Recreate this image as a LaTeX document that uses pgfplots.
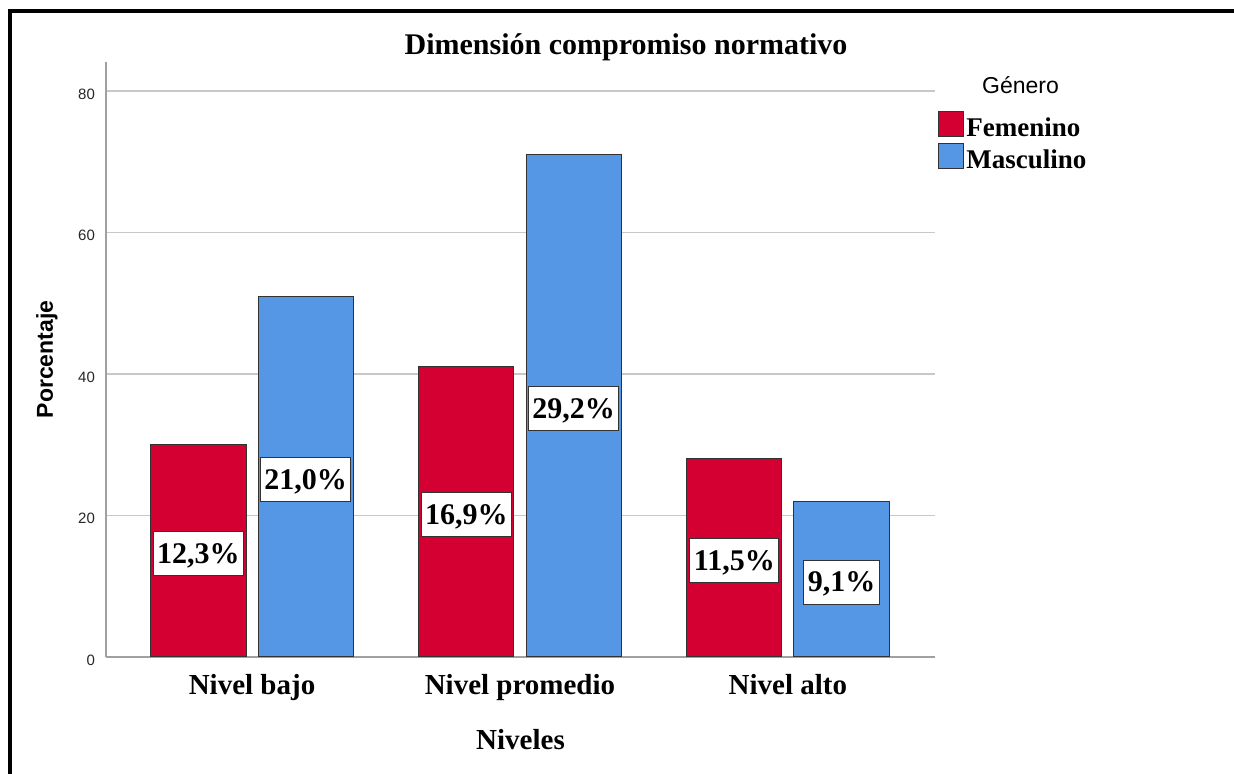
\documentclass[border=0pt]{standalone}
\usepackage{pgfplots}
\pgfplotsset{compat=1.18}
\usepackage{fontspec}
\setmainfont{Liberation Serif}
\newfontfamily\arialfont{Liberation Sans}

\definecolor{femred}{RGB}{213,0,50}
\definecolor{mascblue}{RGB}{85,150,229}
\definecolor{axisgray}{RGB}{160,160,160}
\definecolor{gridgray}{RGB}{200,200,200}
\definecolor{edge}{RGB}{50,50,50}

\begin{document}
\begin{tikzpicture}
\useasboundingbox (0,0) rectangle (617pt,387pt);
% outer frame (left and top)
\draw[line width=2pt] (4.75pt,0pt) -- (4.75pt,381.5pt) -- (617pt,381.5pt);
\begin{axis}[
  at={(53pt,58.5pt)}, anchor=south west,
  scale only axis, width=414.5pt, height=297.5pt,
  xmin=-0.545, xmax=2.549, ymin=0, ymax=84.1,
  axis x line*=bottom, axis y line*=left,
  axis line style={draw=axisgray, line width=1pt, -},
  xtick={0,1,2},
  xticklabels={Nivel bajo, Nivel promedio, Nivel alto},
  ytick={0,20,40,60,80},
  major tick length=0pt,
  ymajorgrids, grid style={draw=gridgray, line width=0.6pt},
  /pgf/number format/assume math mode=true,
  xticklabel style={font=\bfseries\fontsize{14.5}{17}\selectfont, anchor=base, yshift=-19pt},
  yticklabel style={font=\arialfont\fontsize{7.5}{9}\selectfont, text=black!85, xshift=-2pt, yshift=-1.5pt},
  title={Dimensión compromiso normativo},
  every axis title/.style={at={(rel axis cs:0.6273,1.0118)}, anchor=base,
    font=\bfseries\fontsize{15}{18}\selectfont},
  xlabel={Niveles},
  every axis x label/.style={at={(rel axis cs:0.5,-0.156)}, anchor=base,
    font=\bfseries\fontsize{14.5}{17}\selectfont},
  ylabel={Porcentaje},
  every axis y label/.style={at={(rel axis cs:-0.0712,0.5)}, rotate=90, anchor=center,
    font=\arialfont\bfseries\fontsize{11.5}{13}\selectfont},
  ybar, bar width=0.355,
  clip=false,
  visualization depends on={y \as \rawy},
  nodes near coords={\pgfmathparse{\rawy*100/243}\pgfmathprintnumber[fixed,fixed zerofill,precision=1,use comma]{\pgfmathresult}\%},
  every node near coord/.append style={anchor=center, fill=white, draw=edge,
    line width=0.5pt, inner xsep=2pt, inner ysep=5.25pt, text height=10.5pt, text depth=1pt,
    font=\bfseries\fontsize{15}{18}\selectfont, text=black,
    shift={(axis direction cs:0,-\rawy/2)}, yshift=-1.5pt},
  legend cell align=left,
  legend image code/.code={\draw[#1] (0pt,-3pt) rectangle (12.5pt,9.5pt);},
  legend style={at={(rel axis cs:1.0036,0.9176)}, anchor=north west,
    draw=none, fill=none, inner sep=0pt, row sep=1pt,
    nodes={inner sep=1pt},
    /tikz/every even column/.append style={yshift=1.2pt},
    font=\bfseries\fontsize{13.5}{16}\selectfont},
]
% counts per level; labels give each count as a share of the 243 respondents
\addplot[fill=femred, draw=edge, line width=0.5pt, bar shift=-0.2]
  coordinates {(0,30) (1,41) (2,28)};
\addlegendentry{Femenino}
\addplot[fill=mascblue, draw=edge, line width=0.5pt, bar shift=0.2]
  coordinates {(0,51) (1,71) (2,22)};
\addlegendentry{Masculino}

\node[font=\arialfont\fontsize{11.5}{13}\selectfont, anchor=base west]
  at (rel axis cs:1.0483,0.9462) {Género};
\end{axis}
\end{tikzpicture}
\end{document}
